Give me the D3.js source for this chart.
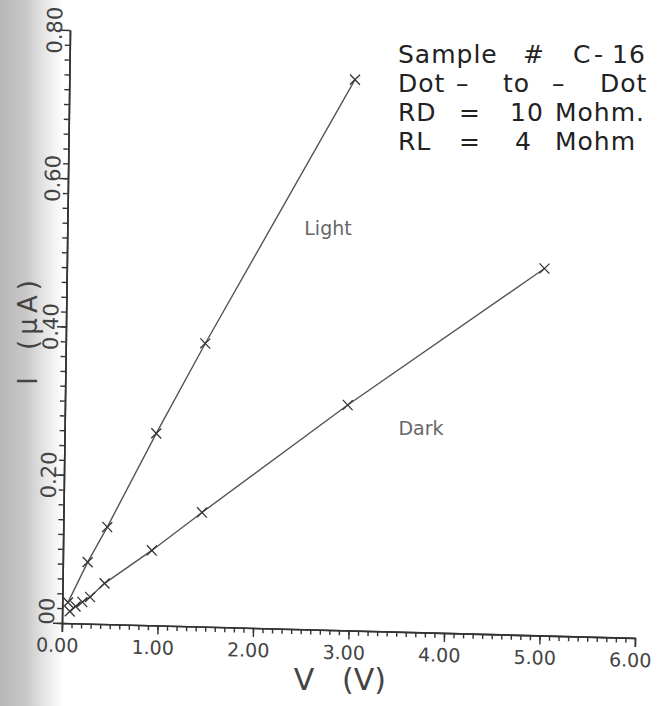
<!DOCTYPE html>
<html>
<head>
<meta charset="utf-8">
<script src="https://cdn.jsdelivr.net/npm/d3@7/dist/d3.min.js"></script>
<style>
  html, body { margin: 0; padding: 0; background: #fff; }
  svg { display: block; }
  text { font-family: "DejaVu Sans", sans-serif; }
</style>
</head>
<body>
<div id="chart"></div>
<script>
// axis ticks
const voltTicks = [0, 1, 2, 3, 4, 5, 6];
const voltTickLabels = ["0.00", "1.00", "2.00", "3.00", "4.00", "5.00", "6.00"];
const currentTicks = [0, 0.2, 0.4, 0.6, 0.8];
const currentTickLabels = ["00", "0.20", "0.40", "0.60", "0.80"];

// Light curve (V, uA)
const lightV = [0.06, 0.26, 0.46, 0.96, 1.46, 2.99];
const lightI = [0.028, 0.083, 0.131, 0.259, 0.382, 0.743];

// Dark curve (V, uA)
const darkV = [0.08, 0.14, 0.21, 0.29, 0.44, 0.93, 1.45, 2.96, 5.0];
const darkI = [0.016, 0.023, 0.029, 0.036, 0.055, 0.101, 0.154, 0.304, 0.495];

// note block, one list of pieces per line
const noteLines = [
  ["Sample ", "# ", "C", "-", "16"],
  ["Dot ", "– ", "to ", "– ", "Dot"],
  ["RD ", "= ", "10 ", "Mohm."],
  ["RL ", "= ", "4 ", "Mohm"]
];

const W = 658, H = 706;
const ox = 62, oy = 623;          // plot origin on the page
const plotW = 573, plotH = 593;

const svg = d3.select("#chart").append("svg")
  .attr("width", W)
  .attr("height", H);

// scanned page shading on the left edge
const grad = svg.append("defs").append("linearGradient")
  .attr("id", "edge")
  .attr("x1", 0).attr("x2", 1).attr("y1", 0).attr("y2", 0);
grad.append("stop").attr("offset", 0).attr("stop-color", "#b8b8b8");
grad.append("stop").attr("offset", 0.4).attr("stop-color", "#c8c8c8");
grad.append("stop").attr("offset", 0.7).attr("stop-color", "#e6e6e6");
grad.append("stop").attr("offset", 1).attr("stop-color", "#ffffff");
svg.append("rect")
  .attr("x", 0).attr("y", 0)
  .attr("width", 64).attr("height", H)
  .attr("fill", "url(#edge)");

const x = d3.scaleLinear().domain([0, 6]).range([0, plotW]);
const y = d3.scaleLinear().domain([0, 0.8]).range([0, -plotH]);

// the scan is slightly skewed, so the whole plot frame is too
const g = svg.append("g")
  .attr("transform", `translate(${ox},${oy}) matrix(1,0.026,-0.0135,1,0,0)`);

//x axis: minor ticks, then major ticks with labels
g.append("g")
  .attr("class", "axis x-minor")
  .call(d3.axisBottom(x).tickValues(d3.range(0, 60).map(d => d / 10)).tickSize(5).tickSizeOuter(0).tickFormat(""));
g.append("g")
  .attr("class", "axis x-major")
  .call(d3.axisBottom(x).tickValues(voltTicks).tickSize(9).tickSizeOuter(9)
    .tickFormat((d, i) => voltTickLabels[i]));

g.selectAll(".x-major text")
  .attr("x", -5)
  .attr("y", 29)
  .attr("dy", 0)
  .style("font-size", "19px");

//y axis
g.append("g")
  .attr("class", "axis y-minor")
  .call(d3.axisLeft(y).tickValues(d3.range(0, 40).map(d => d / 50)).tickSize(5).tickSizeOuter(0).tickFormat(""));
g.append("g")
  .attr("class", "axis y-major")
  .call(d3.axisLeft(y).tickValues(currentTicks).tickSize(9).tickSizeOuter(0)
    .tickFormat((d, i) => currentTickLabels[i]));

// the zero label sits a little above its tick in the scan
g.selectAll(".y-major text")
  .attr("x", 0)
  .attr("y", 0)
  .attr("dy", 0)
  .attr("text-anchor", "middle")
  .attr("transform", d => d === 0 ? "translate(-8,-12) rotate(-90)" : "translate(-8,0) rotate(-90)")
  .style("font-size", "21px");

g.selectAll(".axis path.domain").attr("stroke", "#333").attr("stroke-width", 1.6);
g.selectAll(".axis line").attr("stroke", "#333").attr("stroke-width", 1.4);
g.selectAll(".axis text").attr("fill", "#444").style("font-family", "DejaVu Sans, sans-serif");

// the two measured curves
const series = [
  { v: lightV, i: lightI },
  { v: darkV, i: darkI }
];

const line = d3.line()
  .x(d => x(d[0]))
  .y(d => y(d[1]));

series.forEach(s => {
  let pts = s.v.map((v, k) => [v, s.i[k]]);

  g.append("path")
    .datum(pts)
    .attr("class", "line")
    .attr("fill", "none")
    .attr("stroke", "#555")
    .attr("stroke-width", 1.4)
    .attr("d", line);

  g.selectAll(null)
    .data(pts)
    .enter().append("path")
    .attr("class", "mark")
    .attr("transform", d => `translate(${x(d[0])},${y(d[1])})`)
    .attr("d", "M-5,-5L5,5M-5,5L5,-5")
    .attr("stroke", "#333")
    .attr("stroke-width", 1.3);
});

// curve names
svg.append("text")
  .attr("x", 328).attr("y", 235)
  .attr("text-anchor", "middle")
  .attr("fill", "#666")
  .style("font-size", "19px")
  .text("Light");

svg.append("text")
  .attr("x", 421).attr("y", 435)
  .attr("text-anchor", "middle")
  .attr("fill", "#666")
  .style("font-size", "19px")
  .text("Dark");

//axis titles
svg.append("text")
  .attr("x", 304).attr("y", 690)
  .attr("text-anchor", "middle")
  .attr("fill", "#444")
  .style("font-size", "30px")
  .text("V");
svg.append("text")
  .attr("x", 364).attr("y", 690)
  .attr("text-anchor", "middle")
  .attr("fill", "#444")
  .style("font-size", "30px")
  .text("(V)");

svg.append("text")
  .attr("transform", "translate(37,381) rotate(-90)")
  .attr("text-anchor", "middle")
  .attr("fill", "#444")
  .style("font-size", "26px")
  .text("I");
svg.append("text")
  .attr("transform", "translate(37,315) rotate(-90)")
  .attr("text-anchor", "middle")
  .attr("fill", "#444")
  .style("font-size", "26px")
  .attr("textLength", 70)
  .attr("lengthAdjust", "spacing")
  .text("(μA)");

// note block
const noteX = [
  [398, 523, 573, 594, 612],
  [398, 456, 503, 552, 600],
  [398, 459, 510, 555],
  [398, 459, 515, 555]
];
const noteBase = [63, 92, 121, 150];

noteLines.forEach((parts, r) => {
  let t = svg.append("text")
    .attr("y", noteBase[r])
    .attr("fill", "#222")
    .style("font-size", "25px")
    .style("letter-spacing", "1px")
    .style("white-space", "pre");
  parts.forEach((p, c) => {
    t.append("tspan").attr("x", noteX[r][c]).text(p);
  });
});
</script>
</body>
</html>
